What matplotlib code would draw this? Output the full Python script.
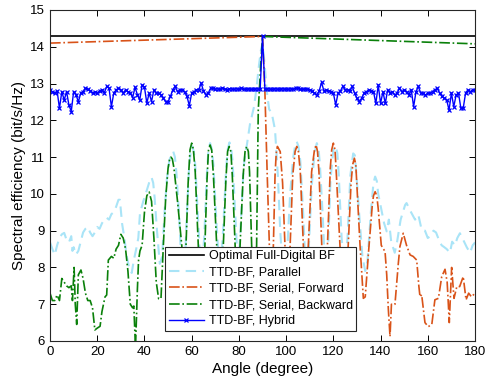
import numpy as np
import matplotlib
matplotlib.use("Agg")
import matplotlib.pyplot as plt

plt.rcParams.update({"font.family": ["Liberation Sans", "DejaVu Sans"], "font.size": 9.5})

# ---------------------------------------------------------------- datos
opt_x = [0, 180]
opt_y = [14.28, 14.28]

par_x = [0, 1, 2, 3, 4, 5, 6, 7, 8, 9, 9.5, 10, 11, 12, 13, 14, 15, 16, 17, 18, 19, 20,
         21, 22, 23, 24, 25, 26, 27, 28, 29, 29.6, 30.5, 31.5, 32.5, 33.5, 34.6, 35.5,
         36.5, 37.4, 38.1, 39.5, 41, 42.2, 43, 43.7, 44.3, 45.3, 46.5, 47.5, 48.5, 49.5,
         50.5, 51.4, 52.2, 52.9, 53.5, 54.7, 55.8, 56.8, 57.8, 58.8, 59.5, 60.2, 60.9,
         61.5, 62.7, 64, 65.3, 66.5, 67.1, 67.8, 68.5, 69.2, 70.5, 72, 73.3, 74.6, 75.3,
         76, 76.7, 77.3, 78.5, 79.7, 80.8, 82, 82.7, 83.3, 84.7, 86.4, 87.5,
         88.5, 89.3, 90, 90.8, 91.8, 92.8, 93.9, 95.3, 96.5, 97.5, 98.5, 99.5, 100.5,
         101.7, 103, 103.8, 104.5, 105.2, 106, 107.2, 108.3, 109.5, 110.8, 112, 113,
         113.7, 114.3, 115.5, 116.5, 117.8, 118.8, 120, 121, 121.7, 122.3, 123.5, 124.8,
         126, 127.2, 128.4, 129.1, 129.8, 131, 132.3, 133.5, 134.5, 136, 137, 137.7,
         138.4, 139, 140.5, 141.5, 142.6, 143.5, 144.5, 146, 147, 148.5, 150.4, 151,
         152.5, 154.6, 156, 157.4, 158.8, 160, 161, 162.4, 163.5, 165, 165.9, 167, 168,
         169.4, 170.3, 171.5, 172.5, 173.6, 175, 176.5, 177.9, 179, 180]
par_y = [8.68, 8.50, 8.34, 8.60, 8.80, 8.90, 8.94, 8.75, 8.68, 8.85, 8.45, 8.55, 8.35,
         8.45, 8.70, 8.95, 9.05, 9.10, 8.95, 8.85, 8.95, 9.10, 9.05, 9.20, 9.30, 9.35,
         9.30, 9.45, 9.50, 9.65, 9.84, 9.84, 9.20, 8.80, 8.30, 8.00, 7.85, 8.20, 8.50,
         8.80, 9.47, 9.80, 10.10, 10.35, 10.45, 10.30, 9.90, 9.00, 8.10, 8.30, 9.50,
         10.40, 10.90, 11.08, 11.15, 11.00, 10.60, 9.40, 7.80, 7.60, 9.20, 10.60, 11.10,
         11.30, 11.15, 10.80, 9.30, 7.70, 8.80, 10.60, 11.20, 11.38, 11.22, 10.80, 9.20,
         7.70, 9.00, 10.70, 11.22, 11.40, 11.25, 10.90, 9.40, 7.80, 9.20, 10.70, 11.10,
         11.30, 11.90, 12.37, 12.90, 13.50, 13.90, 14.10, 13.60, 12.80, 12.30,
         12.20, 11.74, 10.50, 9.00, 8.00, 7.70, 8.50, 10.00, 11.00, 11.30, 11.42, 11.30,
         10.90, 9.50, 7.90, 8.40, 10.20, 11.10, 11.38, 11.25, 10.80, 9.40, 7.90, 8.60,
         10.40, 11.20, 11.30, 11.10, 10.50, 8.80, 7.90, 8.80, 10.50, 11.10, 11.05, 10.50,
         9.40, 8.30, 7.90, 8.20, 9.60, 10.30, 10.47, 10.35, 10.00, 9.52, 9.20, 8.98,
         9.30, 8.70, 8.40, 8.70, 9.30, 9.70, 9.75, 9.55, 9.30, 9.43, 9.02, 9.00, 8.80,
         8.85, 9.00, 8.95, 8.70, 8.60, 8.55, 8.50, 8.40, 8.70, 8.60, 8.80, 8.93, 8.75,
         8.55, 8.40, 8.60, 8.68]

fwd_x = [0, 90, 91, 92, 92.9, 93.7, 94.6, 95.3, 95.8, 96.3, 97.5, 98.5, 99.5, 100.6,
         101.7, 102.8, 103.8, 104.5, 105.2, 106, 107.3, 108.3, 109.4, 110.8, 112, 112.7,
         113.3, 113.9, 115.1, 116.3, 117.5, 118.7, 119.3, 120, 120.7, 121.3, 122.8,
         124.5, 126.3, 127.5, 128.2, 128.9, 129.5, 130, 131.3, 132.7, 133.5, 135, 136.5,
         137, 137.7, 138.4, 139, 140.3, 141.9, 142.6, 143.3, 144, 144.6, 145.4, 146.1,
         147.5, 148.2, 149.6, 151, 152.5, 153.8, 155.3, 156.2, 156.7, 157.4, 158.8,
         160.2, 161.7, 163, 164.5, 165.9, 167.3, 168.2, 168.7, 169.1, 170.1, 171.1,
         172.3, 173.5, 175, 176.2, 177.3, 178.5, 180]
fwd_y = [14.10, 14.28, 12.80, 10.50, 8.60, 7.00, 8.60, 10.50, 11.10, 11.29, 11.15, 10.30,
         8.60, 6.90, 8.60, 10.50, 11.15, 11.29, 11.15, 10.60, 8.60, 6.90, 8.60, 10.60,
         11.20, 11.33, 11.15, 10.60, 8.60, 6.90, 8.60, 10.70, 11.20, 11.38, 11.20, 10.50,
         8.60, 6.90, 8.60, 10.30, 10.80, 10.97, 10.80, 10.20, 8.60, 7.16, 7.20, 8.50,
         9.70, 9.95, 10.06, 9.95, 9.60, 8.60, 8.43, 7.80, 6.85, 6.12, 7.00, 6.98, 7.00,
         8.10, 8.57, 8.93, 8.60, 8.34, 8.30, 8.20, 7.50, 7.20, 7.26, 6.50, 6.39, 6.45,
         7.12, 7.16, 7.75, 7.95, 7.60, 7.00, 6.50, 8.00, 7.16, 7.48, 7.48, 7.75, 7.12,
         7.30, 7.20, 7.30]

bwd_x = [0, 1, 2, 3, 4, 5, 6, 7, 8, 9, 9.5, 10.2, 10.7, 11.3, 12, 13.1, 14, 15, 16, 17,
         18, 19, 20, 21.2, 22, 23.3, 24, 24.7, 26, 27, 28, 29, 30, 31, 32, 33, 34, 35,
         35.5, 36.2, 37, 37.5, 38.1, 39, 40, 41, 42, 43, 44, 45, 46, 47, 48, 49, 50,
         50.6, 51.2, 51.8, 52.5, 54, 55.8, 56.7, 57.6, 58.5, 59.3, 60, 60.7, 61.5, 62.8,
         64.2, 65.6, 66.5, 67.1, 67.8, 68.5, 69.2, 70.6, 72, 73.4, 74.5, 75.2, 75.9,
         76.6, 77.2, 78.4, 79.5, 80.5, 81.8, 82.6, 83.3, 84.0, 84.5, 85.4, 86.5, 87.5,
         88.2, 89.2, 90, 180]
bwd_y = [7.30, 7.10, 7.10, 7.25, 7.10, 7.70, 7.60, 7.50, 7.45, 7.50, 7.10, 8.00, 7.00,
         6.45, 7.80, 7.93, 7.70, 7.30, 7.10, 7.10, 6.90, 6.30, 6.35, 6.40, 6.80, 7.20,
         7.25, 8.20, 8.30, 8.25, 8.50, 8.60, 8.90, 8.80, 8.50, 7.90, 7.00, 6.90, 6.95,
         5.80, 7.40, 8.20, 8.45, 8.60, 9.50, 9.95, 10.05, 9.80, 8.80, 7.60, 7.15, 7.15,
         8.60, 9.90, 10.70, 10.92, 11.00, 10.95, 10.70, 9.80, 8.60, 7.00, 8.60, 10.30,
         11.20, 11.38, 11.22, 10.60, 8.60, 6.90, 8.60, 10.40, 11.18, 11.33, 11.18, 10.50,
         8.60, 6.90, 8.60, 10.40, 11.15, 11.29, 11.15, 10.50, 8.60, 6.90, 8.60, 10.50,
         11.15, 11.29, 11.15, 10.60, 8.60, 7.00, 8.60, 12.28, 13.46, 14.28, 14.08]

hyb_x = np.arange(0, 181)
hyb_y = [12.83, 12.78, 12.74, 12.80, 12.33, 12.78, 12.55, 12.78, 12.42, 12.24,
         12.78, 12.70, 12.50, 12.74, 12.78, 12.87, 12.85, 12.80, 12.74, 12.78,
         12.74, 12.80, 12.83, 12.75, 12.92, 12.87, 12.37, 12.74, 12.83, 12.87,
         12.83, 12.74, 12.83, 12.78, 12.74, 12.62, 12.90, 12.70, 12.55, 12.96,
         12.90, 12.47, 12.74, 12.51, 12.83, 12.74, 12.74, 12.69, 12.60, 12.51,
         12.51, 12.65, 12.83, 12.92, 12.78, 12.83, 12.83, 12.78, 12.65, 12.40,
         12.74, 12.78, 12.83, 12.83, 13.01, 12.80, 12.70, 12.74, 12.87, 12.87,
         12.85, 12.86, 12.84, 12.88, 12.85, 12.83, 12.86, 12.85, 12.84, 12.86,
         12.85, 12.87, 12.84, 12.85, 12.86, 12.84, 12.85, 12.86, 12.85, 12.84,
         14.28,
         12.85, 12.86, 12.85, 12.84, 12.86, 12.85, 12.84, 12.86, 12.85, 12.85,
         12.84, 12.86, 12.85, 12.87, 12.88, 12.85, 12.84, 12.86, 12.85, 12.83,
         12.80, 12.74, 12.69, 12.80, 13.03, 12.80, 12.83, 12.80, 12.78, 12.74,
         12.42, 12.74, 12.80, 12.92, 12.83, 12.83, 12.80, 12.92, 12.74, 12.60,
         12.51, 12.60, 12.74, 12.78, 12.83, 12.80, 12.78, 12.46, 12.96, 12.46,
         12.78, 12.46, 12.83, 12.74, 12.78, 12.69, 12.74, 12.87, 12.78, 12.83,
         12.78, 12.69, 12.83, 12.37, 12.78, 12.92, 12.74, 12.74, 12.69, 12.74,
         12.74, 12.78, 12.83, 12.87, 12.74, 12.65, 12.60, 12.55, 12.28, 12.74,
         12.37, 12.69, 12.74, 12.33, 12.33, 12.74, 12.83, 12.78, 12.83, 12.83]

# ---------------------------------------------------------------- figura
fig = plt.figure(figsize=(4.87, 3.86), dpi=100)
ax = fig.add_axes([0.1027, 0.1166, 0.8727, 0.8575])

ax.plot(opt_x, opt_y, color="black", lw=1.2, label="Optimal Full-Digital BF")
ax.plot(par_x, par_y, color="#a9e4f7", lw=1.5, dashes=(5, 3), label="TTD-BF, Parallel")
ax.plot(fwd_x, fwd_y, color="#d95319", lw=1.2, ls="-.", label="TTD-BF, Serial, Forward")
ax.plot(bwd_x, bwd_y, color="#0a800a", lw=1.2, ls="-.", label="TTD-BF, Serial, Backward")
ax.plot(hyb_x, hyb_y, color="#0000ff", lw=1.0, marker="x", ms=3.5, mew=0.9,
        label="TTD-BF, Hybrid")

ax.set_xlim(0, 180)
ax.set_ylim(6, 15)
ax.set_xticks(np.arange(0, 181, 20))
ax.set_yticks(np.arange(6, 16, 1))
ax.tick_params(direction="in", top=True, right=True, length=4, width=0.7, labelsize=9.5)
for s in ax.spines.values():
    s.set_linewidth(0.8)
    s.set_color("#262626")
ax.set_xlabel("Angle (degree)", fontsize=11, labelpad=3)
ax.set_ylabel("Spectral efficiency (bit/s/Hz)", fontsize=11, labelpad=3)

leg = ax.legend(loc="lower left", bbox_to_anchor=(0.27, 0.03), fontsize=9,
                handlelength=2.8, labelspacing=0.34, borderpad=0.3, handletextpad=0.4,
                borderaxespad=0, fancybox=False, framealpha=1, edgecolor="#262626")
leg.get_frame().set_linewidth(0.8)

fig.savefig("out.png", dpi=100)
